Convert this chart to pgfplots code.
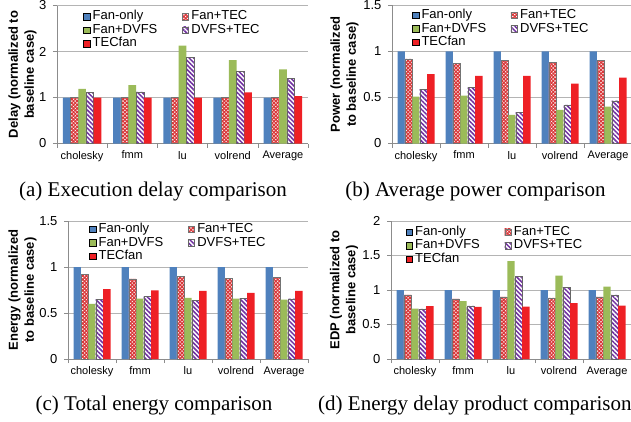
\documentclass[border=0pt]{standalone}
\usepackage{fontspec}
\setmainfont{Liberation Sans}
\newfontfamily\capfont{Liberation Serif}
\usepackage{pgfplots}
\pgfplotsset{compat=1.18}
\usetikzlibrary{patterns.meta}

\definecolor{fanblue}{HTML}{4F81BD}
\definecolor{tecred}{HTML}{D9383A}
\definecolor{dvgreen}{HTML}{9BBB59}
\definecolor{dvpurple}{HTML}{7030A0}
\definecolor{tecfan}{HTML}{EE2025}
\definecolor{axgray}{HTML}{8C8C8C}
\definecolor{gridgray}{HTML}{B4B4B4}

\pgfplotsset{
  panel/.style={
    scale only axis, width=240pt, height=138pt,
    anchor=south west,
    ybar=0pt, bar width=7.4pt,
    xmin=0.5, xmax=5.5, ymin=0,
    axis x line*=bottom, axis y line*=left,
    axis line style={draw=axgray, line width=0.6pt},
    xtick={1,...,5}, xticklabels={cholesky,fmm,lu,volrend,Average},
    minor xtick={0.5,1.5,...,5.5},
    major tick length=4pt, minor tick length=4pt, tick align=outside,
    major x tick style={draw=none},
    minor x tick style={draw=axgray, line width=0.6pt},
    ytick style={draw=axgray, line width=0.6pt},
    ymajorgrids, major grid style={draw=gridgray, line width=0.6pt},
    /pgf/number format/assume math mode=true,
    xticklabel style={font=\fontsize{11}{13}\selectfont, yshift=0pt},
    yticklabel style={font=\fontsize{13}{15}\selectfont, xshift=-3pt},
    ylabel style={font=\bfseries\fontsize{13}{16}\selectfont, align=center, anchor=center},
    legend columns=2,
    legend cell align=left,
    legend image code/.code={\draw[##1] (0pt,-3.2pt) rectangle (6.4pt,3.2pt);},
    legend style={draw=none, fill=none, anchor=north west, inner sep=0pt,
      font=\fontsize{13}{15}\selectfont, column sep=2pt, row sep=0pt,
      nodes={inner sep=0.6pt, text height=9.5pt, text depth=2.8pt},
      /tikz/every even column/.append style={column sep=24pt}},
  },
  s1/.style={fill=fanblue, draw=none},
  s2/.style={fill=white, draw=black!55, line width=0.4pt,
    postaction={pattern={Hatch[angle=45,distance=2.6pt,line width=1.2pt]}, pattern color=tecred}},
  s3/.style={fill=dvgreen, draw=none},
  s4/.style={fill=white, draw=black!60, line width=0.4pt,
    postaction={pattern={Lines[angle=-45,distance=3.2pt,line width=1.5pt]}, pattern color=dvpurple}},
  s5/.style={fill=tecfan, draw=none},
}

\begin{document}
\begin{tikzpicture}[x=1pt,y=1pt]
\path[use as bounding box] (0,0) rectangle (631,421);

% (a) delay
\begin{axis}[panel, at={(57pt,277.5pt)}, width=251pt, bar width=7.7pt,
  ymax=3, ytick={0,1,2,3},
  ylabel={Delay (normalized to\\baseline case)},
  ylabel style={at={(axis description cs:-0.137,0.5)}},
  legend style={at={(axis description cs:0.104,0.97)}}]
\addplot[s1] coordinates {(1,1) (2,1) (3,1) (4,1) (5,1)};
\addplot[s2] coordinates {(1,1) (2,1) (3,1) (4,1) (5,1)};
\addplot[s3] coordinates {(1,1.19) (2,1.27) (3,2.13) (4,1.81) (5,1.61)};
\addplot[s4] coordinates {(1,1.11) (2,1.12) (3,1.87) (4,1.57) (5,1.41)};
\addplot[s5] coordinates {(1,1.0) (2,1.0) (3,1.0) (4,1.11) (5,1.03)};
\legend{Fan-only,Fan+TEC,Fan+DVFS,DVFS+TEC,TECfan}
\end{axis}

% (b) power
\begin{axis}[panel, at={(392pt,277.5pt)},
  ymax=1.5, ytick={0,0.5,1,1.5},
  ylabel={Power (normalized\\to baseline case)},
  ylabel style={at={(axis description cs:-0.198,0.5)}},
  legend style={at={(axis description cs:0.083,0.98)}}]
\addplot[s1] coordinates {(1,1) (2,1) (3,1) (4,1) (5,1)};
\addplot[s2] coordinates {(1,0.92) (2,0.87) (3,0.90) (4,0.88) (5,0.90)};
\addplot[s3] coordinates {(1,0.51) (2,0.52) (3,0.31) (4,0.365) (5,0.40)};
\addplot[s4] coordinates {(1,0.59) (2,0.61) (3,0.34) (4,0.42) (5,0.465)};
\addplot[s5] coordinates {(1,0.755) (2,0.735) (3,0.735) (4,0.65) (5,0.715)};
\legend{Fan-only,Fan+TEC,Fan+DVFS,DVFS+TEC,TECfan}
\end{axis}

% (c) energy
\begin{axis}[panel, at={(68pt,62pt)},
  ymax=1.5, ytick={0,0.5,1,1.5},
  ylabel={Energy (normalized\\to baseline case)},
  ylabel style={at={(axis description cs:-0.19,0.5)}},
  legend style={at={(axis description cs:0.0875,0.99)}}]
\addplot[s1] coordinates {(1,1) (2,1) (3,1) (4,1) (5,1)};
\addplot[s2] coordinates {(1,0.92) (2,0.87) (3,0.90) (4,0.88) (5,0.89)};
\addplot[s3] coordinates {(1,0.60) (2,0.655) (3,0.665) (4,0.655) (5,0.645)};
\addplot[s4] coordinates {(1,0.65) (2,0.68) (3,0.64) (4,0.66) (5,0.655)};
\addplot[s5] coordinates {(1,0.76) (2,0.745) (3,0.74) (4,0.72) (5,0.74)};
\legend{Fan-only,Fan+TEC,Fan+DVFS,DVFS+TEC,TECfan}
\end{axis}

% (d) EDP
\begin{axis}[panel, at={(391pt,62pt)},
  ymax=2, ytick={0,0.5,1,1.5,2},
  ylabel={EDP (normalized to\\baseline case)},
  ylabel style={at={(axis description cs:-0.196,0.5)}},
  legend style={at={(axis description cs:0.061,0.97)}}]
\addplot[s1] coordinates {(1,1) (2,1) (3,1) (4,1) (5,1)};
\addplot[s2] coordinates {(1,0.93) (2,0.87) (3,0.90) (4,0.885) (5,0.90)};
\addplot[s3] coordinates {(1,0.73) (2,0.84) (3,1.42) (4,1.21) (5,1.05)};
\addplot[s4] coordinates {(1,0.725) (2,0.77) (3,1.20) (4,1.04) (5,0.93)};
\addplot[s5] coordinates {(1,0.765) (2,0.755) (3,0.76) (4,0.81) (5,0.775)};
\legend{Fan-only,Fan+TEC,Fan+DVFS,DVFS+TEC,TECfan}
\end{axis}

\node[font=\capfont\fontsize{21}{24}\selectfont, anchor=base] at (153,225) {(a)~Execution delay comparison};
\node[font=\capfont\fontsize{21}{24}\selectfont, anchor=base] at (475.5,225) {(b)~Average power comparison};
\node[font=\capfont\fontsize{21}{24}\selectfont, anchor=base] at (154,10.5) {(c)~Total energy comparison};
\node[font=\capfont\fontsize{21}{24}\selectfont, anchor=base west, inner sep=0pt] at (318,10.5) {(d)~Energy delay product comparison};
\end{tikzpicture}
\end{document}
